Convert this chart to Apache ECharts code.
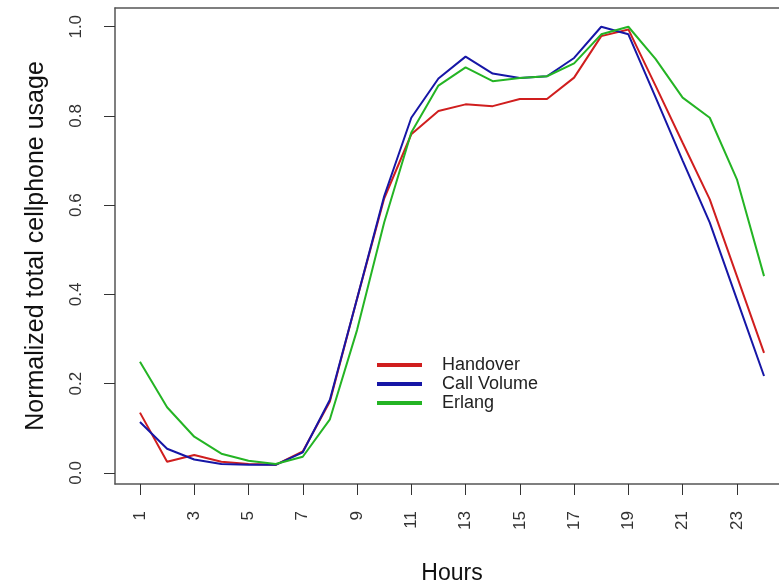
<!DOCTYPE html>
<html lang="en">
<head>
    <meta charset="UTF-8">
    <title>Normalized cellphone usage</title>
    <script src="https://cdn.jsdelivr.net/npm/echarts@6/dist/echarts.min.js"></script>
</head>
<body style="margin:0;background:#fff">
<div id="pic1" style="width: 779px;height:585px;"></div>
<script>
    // hours of the day
    var hours = [1, 2, 3, 4, 5, 6, 7, 8, 9, 10, 11, 12, 13, 14, 15, 16, 17, 18, 19, 20, 21, 22, 23, 24];
    // normalized usage
    var handover = [0.135, 0.025, 0.040, 0.025, 0.020, 0.018, 0.048, 0.160, 0.390, 0.615, 0.759, 0.811,
        0.826, 0.822, 0.838, 0.838, 0.886, 0.979, 0.994, 0.868, 0.740, 0.613, 0.441, 0.269];
    var callVolume = [0.114, 0.054, 0.030, 0.020, 0.018, 0.018, 0.046, 0.164, 0.390, 0.620, 0.796, 0.884,
        0.933, 0.895, 0.885, 0.889, 0.930, 1.000, 0.983, 0.842, 0.700, 0.561, 0.389, 0.217];
    var erlang = [0.249, 0.147, 0.081, 0.043, 0.027, 0.020, 0.036, 0.120, 0.320, 0.561, 0.763, 0.868,
        0.909, 0.878, 0.885, 0.889, 0.918, 0.983, 1.000, 0.928, 0.841, 0.796, 0.658, 0.441];
    // tick labels
    var hourTicks = [1, 3, 5, 7, 9, 11, 13, 15, 17, 19, 21, 23];
    var yTicks = [0, 0.2, 0.4, 0.6, 0.8, 1.0];
    var seriesNames = ['Handover', 'Call Volume', 'Erlang'];

    function pairs(values) {
        return hours.map(function (h, i) { return [h, values[i]]; });
    }

    var fontName = 'Liberation Sans, Arial, sans-serif';
    var boxLine = { show: true, onZero: false, lineStyle: { color: '#555', width: 1.5 } };
    var myCharts1 = echarts.init(document.getElementById('pic1'));
    var option1 = {
        backgroundColor: 'white',
        animation: false,
        color: ['#d01e1e', '#1616a6', '#24b424'],
        // the plot box runs off the right edge of the picture
        grid: {
            left: 115,
            top: 8,
            right: -10,
            bottom: 101,
            outerBoundsMode: 'none',
            show: false
        },
        legend: {
            orient: 'vertical',
            left: 372,
            top: 351,
            itemWidth: 45,
            itemHeight: 4,
            itemGap: 1,
            icon: 'rect',
            data: seriesNames,
            textStyle: {
                fontFamily: fontName,
                fontSize: 18,
                lineHeight: 18,
                padding: [0, 0, 0, 15],
                color: '#222'
            }
        },
        xAxis: [{
            type: 'value',
            min: 0.08,
            max: 24.92,
            name: 'Hours',
            nameLocation: 'middle',
            nameGap: 78,
            nameTextStyle: { fontFamily: fontName, fontSize: 23, color: '#111' },
            axisLine: boxLine,
            axisTick: { show: true, inside: false, length: 11, customValues: hourTicks, lineStyle: { color: '#333' } },
            axisLabel: {
                customValues: hourTicks,
                rotate: 90,
                margin: 27,
                fontFamily: fontName,
                fontSize: 17,
                color: '#333'
            },
            splitLine: { show: false }
        }, {
            // top edge of the box
            type: 'value',
            position: 'top',
            min: 0.08,
            max: 24.92,
            axisLine: boxLine,
            axisTick: { show: false },
            axisLabel: { show: false },
            splitLine: { show: false }
        }],
        yAxis: {
            type: 'value',
            min: -0.025,
            max: 1.042,
            name: 'Normalized total cellphone usage',
            nameLocation: 'middle',
            nameRotate: 90,
            nameGap: 66,
            nameTextStyle: { fontFamily: fontName, fontSize: 25, color: '#111' },
            axisLine: boxLine,
            axisTick: { show: true, inside: false, length: 11, customValues: yTicks, lineStyle: { color: '#333' } },
            axisLabel: {
                customValues: yTicks,
                rotate: 90,
                margin: 30,
                fontFamily: fontName,
                fontSize: 17,
                color: '#333',
                formatter: function (v) { return v.toFixed(1); }
            },
            splitLine: { show: false }
        },
        series: [
            { name: seriesNames[0], type: 'line', data: pairs(handover), showSymbol: false, lineStyle: { width: 2 } },
            { name: seriesNames[1], type: 'line', data: pairs(callVolume), showSymbol: false, lineStyle: { width: 2 } },
            { name: seriesNames[2], type: 'line', data: pairs(erlang), showSymbol: false, lineStyle: { width: 2 } }
        ]
    };
    myCharts1.setOption(option1, true);
</script>
</body>
</html>
